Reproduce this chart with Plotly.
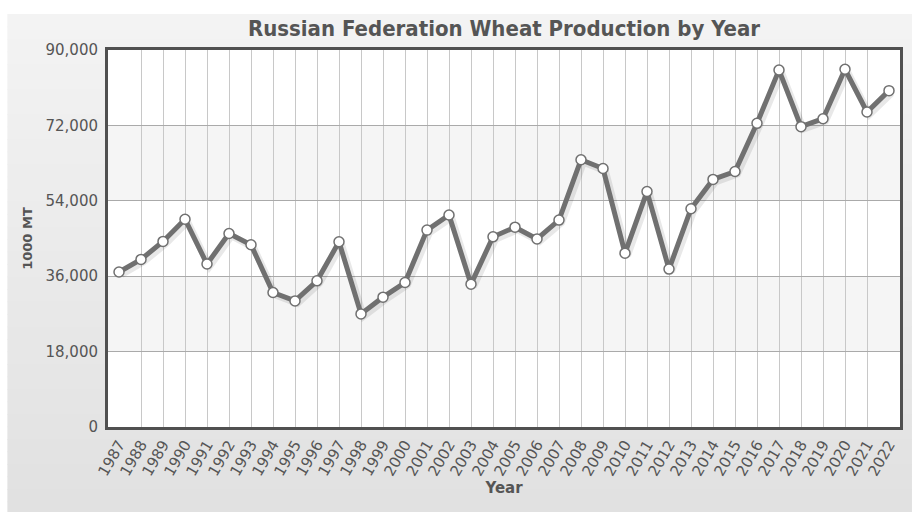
import plotly.graph_objects as go

years = list(range(1987, 2023))
production = [37000, 40000, 44300, 49600, 38900, 46200, 43500, 32100, 30100, 34900,
              44200, 27000, 31000, 34500, 47000, 50600, 34100, 45400, 47700, 44900,
              49400, 63800, 61700, 41500, 56200, 37700, 52100, 59100, 61000, 72500,
              85200, 71700, 73600, 85400, 75200, 80300]
tick_labels = [str(y) for y in years]
y_ticks = [0, 18000, 36000, 54000, 72000, 90000]
y_tick_labels = ["0", "18,000", "36,000", "54,000", "72,000", "90,000"]

W, H = 913, 512
ML, MR, MT, MB = 108, 10, 50, 85
PW, PH = W - ML - MR, H - MT - MB
FONT = "DejaVu Sans"
TXT = "#555555"
X_RANGE = [1986.5, 2022.5]
Y_RANGE = [0, 90000]


def px_to_paper_x(px):
    return (px - ML) / PW


def px_to_paper_y(py):
    return (H - MB - py) / PH


# shadow offset (pixels -> axis units) for a soft drop shadow under the line
sx = 2.5 * (X_RANGE[1] - X_RANGE[0]) / PW
sy = 2.5 * (Y_RANGE[1] - Y_RANGE[0]) / PH

fig = go.Figure()

fig.add_trace(go.Scatter(
    x=years, y=production, mode="lines", xaxis="x2", yaxis="y2",
    line=dict(color="rgba(0,0,0,0.09)", width=7),
    hoverinfo="skip", showlegend=False,
))
fig.add_trace(go.Scatter(
    x=years, y=production, mode="lines+markers", xaxis="x3", yaxis="y3",
    line=dict(color="#707070", width=5),
    marker=dict(size=10, color="white", line=dict(color="#707070", width=1.5)),
    hoverinfo="x+y", showlegend=False,
))

shapes = []
n = 40
top_c, bot_c = 0xF3, 0xE1
yt, yb = px_to_paper_y(14), px_to_paper_y(H + 2)
for i in range(n):
    c = round(top_c + (bot_c - top_c) * i / (n - 1))
    col = f"rgb({c},{c},{c})"
    y1 = yt - i * (yt - yb) / n
    y0 = yt - (i + 1) * (yt - yb) / n - 0.002
    shapes.append(dict(type="rect", xref="paper", yref="paper", layer="below",
                       x0=px_to_paper_x(7), x1=px_to_paper_x(W + 2), y0=y0, y1=y1,
                       line=dict(width=0), fillcolor=col))
shapes.append(dict(type="rect", xref="x domain", yref="y domain", layer="below",
                   x0=0, x1=1, y0=0, y1=1, line=dict(width=0), fillcolor="white"))
for lo, hi in zip(y_ticks[:-1], y_ticks[1:]):
    if (lo // 18000) % 2 == 1:
        shapes.append(dict(type="rect", xref="x domain", yref="y", layer="below",
                           x0=0, x1=1, y0=lo, y1=hi, line=dict(width=0),
                           fillcolor="#f5f5f5"))

fig.update_layout(
    width=W, height=H,
    margin=dict(l=ML, r=MR, t=MT, b=MB),
    paper_bgcolor="white", plot_bgcolor="white",
    font=dict(family=FONT, color=TXT, size=15),
    title=dict(text="Russian Federation Wheat Production by Year",
               font=dict(family="DejaVu Sans Condensed, DejaVu Sans", size=22,
                         color=TXT, weight="bold"),
               xref="paper", x=0.5, xanchor="center",
               yref="container", y=1 - 28 / H, yanchor="middle"),
    shapes=shapes,
    xaxis=dict(
        range=X_RANGE, tickmode="array", tickvals=years, ticktext=tick_labels,
        tickangle=-60, showgrid=False, zeroline=False, ticks="",
        tickfont=dict(size=15, color=TXT),
        minor=dict(tickmode="array", tickvals=years[1:-1], showgrid=True,
                   gridcolor="#c8c8c8", gridwidth=1, ticks=""),
        showline=True, linecolor="#505050", linewidth=3, mirror=True,
        title=dict(text="Year", font=dict(size=15, weight="bold", color=TXT), standoff=4),
    ),
    yaxis=dict(
        range=Y_RANGE, tickmode="array", tickvals=y_ticks, ticktext=y_tick_labels,
        showgrid=True, gridcolor="#aaaaaa", gridwidth=1, zeroline=False, ticks="",
        tickfont=dict(size=15, color=TXT), ticklabelstandoff=4,
        showline=True, linecolor="#505050", linewidth=3, mirror=True,
        title=dict(text="1000 MT", font=dict(size=13, weight="bold", color=TXT), standoff=10),
    ),
    xaxis2=dict(overlaying="x", range=[X_RANGE[0] - sx, X_RANGE[1] - sx], visible=False),
    yaxis2=dict(overlaying="y", range=[Y_RANGE[0] + sy, Y_RANGE[1] + sy], visible=False),
    xaxis3=dict(overlaying="x", range=X_RANGE, visible=False),
    yaxis3=dict(overlaying="y", range=Y_RANGE, visible=False),
)

fig.write_html("out.html")
